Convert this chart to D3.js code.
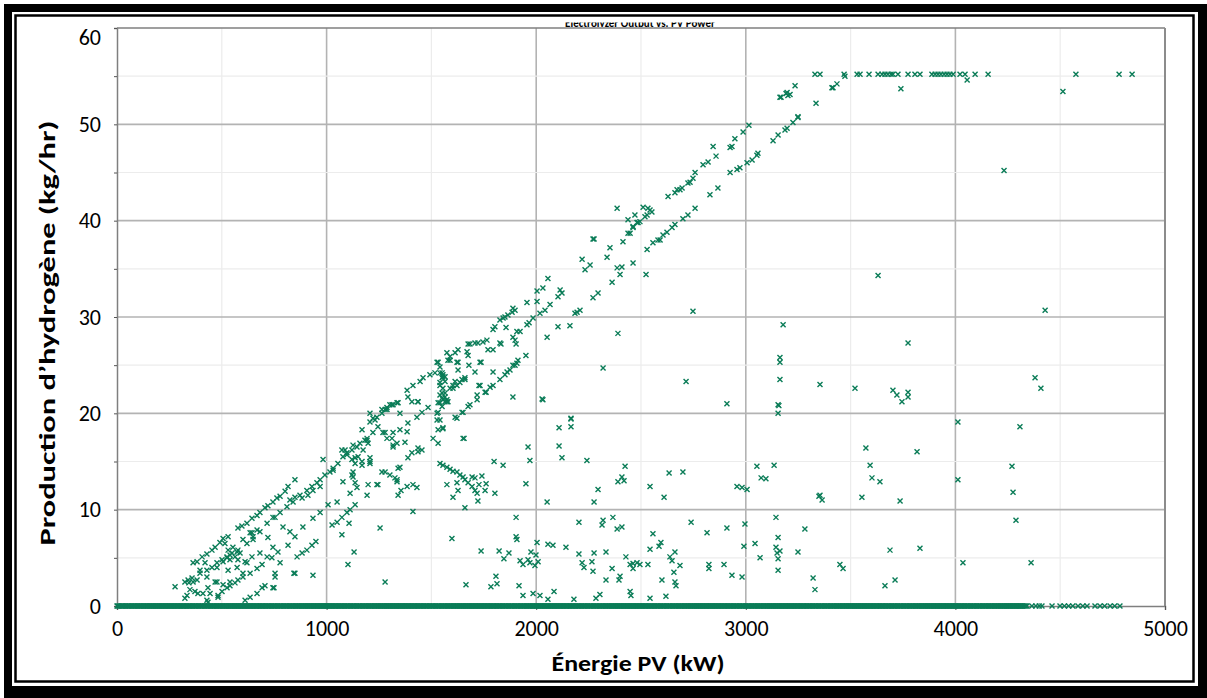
<!DOCTYPE html>
<html>
<head>
<meta charset="utf-8">
<script src="https://cdn.jsdelivr.net/npm/d3@7"></script>
<style>
  body { margin: 0; background: #fff; }
  svg { display: block; }
  text { font-family: Calibri, Carlito, Lato, sans-serif; fill: #000; }
</style>
</head>
<body>
<svg id="chart" width="1207" height="698"></svg>
<script>
const chartTitle = "Electrolyzer Output vs. PV Power";
const xTitle = "Énergie PV (kW)";
const yTitle = "Production d’hydrogène (kg/hr)";
const xTicks = [0, 1000, 2000, 3000, 4000, 5000];
const yTicks = [0, 10, 20, 30, 40, 50, 60];

// PV power (kW) of the hours where the electrolyzer produced nothing
const zeroOutput = [0,9,19,28,39,48,57,68,77,86,97,106,115,126,135,144,155,164,173,184,193,202,213,222,231,242,251,260,271,280,289,300,309,318,329,338,347,358,367,376,387,396,405,416,425,434,445,454,463,474,483,492,503,512,521,532,541,550,561,570,579,590,599,608,619,628,637,648,657,666,677,686,695,706,715,724,735,744,753,764,773,782,793,802,811,822,831,840,851,860,869,880,889,898,909,918,927,938,947,956,967,976,985,996,
  1005,1014,1025,1034,1043,1054,1063,1072,1083,1092,1101,1112,1121,1130,1141,1150,1159,1170,1179,1188,1199,1208,1217,1228,1237,1246,1257,1266,1275,1286,1295,1304,1315,1324,1333,1344,1353,1362,1373,1382,1391,1402,1411,1420,1431,1440,1449,1460,1469,1478,1489,1498,1507,1518,1527,1536,1547,1556,1565,1576,1585,1594,1605,1614,1623,1634,1643,1652,1663,1672,1681,1692,1701,1710,1721,1730,1739,1750,1759,1768,1779,1788,1797,1808,1817,1826,1837,1846,1855,1866,1875,1884,1895,1904,1913,1924,1933,1942,1953,1962,1971,1982,1991,
  2000,2011,2020,2029,2040,2049,2058,2069,2078,2087,2098,2107,2116,2127,2136,2145,2156,2165,2174,2185,2194,2203,2214,2223,2232,2243,2252,2261,2272,2281,2290,2301,2310,2319,2330,2339,2348,2359,2368,2377,2388,2397,2406,2417,2426,2435,2446,2455,2464,2475,2484,2493,2504,2513,2522,2533,2542,2551,2562,2571,2580,2591,2600,2609,2620,2629,2638,2649,2658,2667,2678,2687,2696,2707,2716,2725,2736,2745,2754,2765,2774,2783,2794,2803,2812,2823,2832,2841,2852,2861,2870,2881,2890,2899,2910,2919,2928,2939,2948,2957,2968,2977,2986,2997,
  3006,3015,3026,3035,3044,3055,3064,3073,3084,3093,3102,3113,3122,3131,3142,3151,3160,3171,3180,3189,3200,3209,3218,3229,3238,3247,3258,3267,3276,3287,3296,3305,3316,3325,3334,3345,3354,3363,3374,3383,3392,3403,3412,3421,3432,3441,3450,3461,3470,3479,3490,3499,3508,3519,3528,3537,3548,3557,3566,3577,3586,3595,3606,3615,3624,3635,3644,3653,3664,3673,3682,3693,3702,3711,3722,3731,3740,3751,3760,3769,3780,3789,3798,3809,3818,3827,3838,3847,3856,3867,3876,3885,3896,3905,3914,3925,3934,3943,3954,3963,3972,3983,3992,
  4001,4012,4021,4030,4041,4050,4059,4070,4079,4088,4099,4108,4117,4128,4137,4146,4157,4166,4175,4186,4195,4204,4215,4224,4233,4244,4253,4262,4273,4282,4291,4302,4311,4320,4331,4341,
  4365,4384,4400,4413,4461,4499,4520,4540,4560,4585,4608,4628,4666,4690,4712,4738,4760,4785];
const zeroOutputMore = [4,14,24,33,43,53,62,72,82,91,101,111,120,130,140,149,159,169,178,188,198,207,217,227,236,246,256,265,275,285,294,304,314,323,333,343,352,362,372,381,391,401,410,420,430,439,449,459,468,478,488,497,507,517,526,536,546,555,565,575,584,594,604,613,623,633,642,652,662,671,681,691,700,710,720,729,739,749,758,768,778,787,797,807,816,826,836,845,855,865,874,884,894,903,913,923,932,942,952,961,971,981,990,
  1000,1010,1019,1029,1039,1048,1058,1068,1077,1087,1097,1106,1116,1126,1135,1145,1155,1164,1174,1184,1193,1203,1213,1222,1232,1242,1251,1261,1271,1280,1290,1300,1309,1319,1329,1338,1348,1358,1367,1377,1387,1396,1406,1416,1425,1435,1445,1454,1464,1474,1483,1493,1503,1512,1522,1532,1541,1551,1561,1570,1580,1590,1599,1609,1619,1628,1638,1648,1657,1667,1677,1686,1696,1706,1715,1725,1735,1744,1754,1764,1773,1783,1793,1802,1812,1822,1831,1841,1851,1860,1870,1880,1889,1899,1909,1918,1928,1938,1947,1957,1967,1976,1986,1996,
  2005,2015,2025,2034,2044,2054,2063,2073,2083,2092,2102,2112,2121,2131,2141,2150,2160,2170,2179,2189,2199,2208,2218,2228,2237,2247,2257,2266,2276,2286,2295,2305,2315,2324,2334,2344,2353,2363,2373,2382,2392,2402,2411,2421,2431,2440,2450,2460,2469,2479,2489,2498,2508,2518,2527,2537,2547,2556,2566,2576,2585,2595,2605,2614,2624,2634,2643,2653,2663,2672,2682,2692,2701,2711,2721,2730,2740,2750,2759,2769,2779,2788,2798,2808,2817,2827,2837,2846,2856,2866,2875,2885,2895,2904,2914,2924,2933,2943,2953,2962,2972,2982,2991,
  3001,3011,3020,3030,3040,3049,3059,3069,3078,3088,3098,3107,3117,3127,3136,3146,3156,3165,3175,3185,3194,3204,3214,3223,3233,3243,3252,3262,3272,3281,3291,3301,3310,3320,3330,3339,3349,3359,3368,3378,3388,3397,3407,3417,3426,3436,3446,3455,3465,3475,3484,3494,3504,3513,3523,3533,3542,3552,3562,3571,3581,3591,3600,3610,3620,3629,3639,3649,3658,3668,3678,3687,3697,3707,3716,3726,3736,3745,3755,3765,3774,3784,3794,3803,3813,3823,3832,3842,3852,3861,3871,3881,3890,3900,3910,3919,3929,3939,3948,3958,3968,3977,3987,3997,
  4006,4016,4026,4035,4045,4055,4064,4074,4084,4093,4103,4113,4122,4132,4142,4151,4161,4171,4180,4190,4200,4209,4219,4229,4238,4248,4258,4267,4277,4287,4296,4306,4316,4326,4336];

// PV power (kW) of the hours at full electrolyzer output
const plateauX = [3330,3354,3469,3531,3545,3588,3631,3650,3664,3678,3693,3702,3726,3774,3807,3831,3888,3903,3917,3931,3946,3960,3974,3989,4022,4046,4094,4156,4575,4781,4843];
const plateauValue = 55.2;

// [PV power kW, hydrogen kg/hr]
const upperLine = [[277,2.0],[324,2.5],[339,2.7],[358,2.9],[363,2.5],[343,2.4],[363,4.5],[382,4.6],[406,5.1],[429,5.4],[453,5.8],[468,6.1],[491,6.6],[506,7.0],[530,7.2],[577,8.1],[596,8.3],[620,8.6],[644,9.1],[668,9.4],[682,9.7],[706,10.2],[720,10.4],[744,10.8],[763,11.2],[778,11.4],[802,11.9],[816,12.4],[849,13.1],[983,15.2],[1031,14.1],[1073,16.2],[1088,16.2],[1097,15.7],[1121,15.2],[1136,15.4],[1126,13.9],[1126,13.4],[1078,12.9],[1169,18.3],[1193,17.4],[1198,16.9],[1169,15.0],[1174,16.2],[1207,15.4],[1207,14.8],[1126,16.7],[1183,17.2],[1207,19.1],[1207,20.0],[1221,19.5],[1231,19.3],[1240,19.6],[1264,20.0],[1264,20.4],[1288,20.4],[1288,20.6],[1312,20.9],[1317,20.9],[1336,21.1],[1341,21.1],[1350,20.0],[1279,20.4],[1302,20.9],[1384,22.4],[1412,22.9],[1446,23.3],[1460,23.7],[1493,24.0],[1517,24.2],[1541,24.2],[1555,24.0],[1551,23.7],[1565,23.8],[1574,26.3],[1613,26.3],[1627,26.6],[1670,26.4],[1684,27.2],[1708,27.3],[1722,27.3],[1746,27.4],[1765,27.6],[1675,26.0],[1675,27.2],[1770,26.6],[1794,26.6],[1827,27.3],[1794,28.7],[1803,29.0],[1827,29.7],[1842,29.9],[1865,30.2],[1885,30.5],[1889,30.9],[1899,30.7],[1956,31.5],[2004,31.6],[2004,32.7],[2032,33.0],[2056,34.0],[2114,32.8],[2123,32.5],[2104,32.1],[2219,36.0],[2233,34.9],[2257,35.4],[2276,38.1],[2338,36.2],[2352,37.2],[2386,41.3],[2414,37.8],[2438,38.7],[2462,39.4],[2481,39.8],[2438,40.1],[2448,38.7],[2462,39.3],[2471,40.6],[2486,39.8],[2495,39.9],[2510,41.4],[2519,40.4],[2529,40.6],[2533,41.3],[2543,41.1],[2552,40.9],[2629,42.5],[2662,42.9],[2672,43.2],[2686,43.2],[2696,43.4],[2724,43.9],[2734,44.0],[2748,44.4],[2758,45.0],[2796,45.8],[2820,46.1],[2844,47.7],[2858,46.7],[2925,47.6],[2934,47.7],[2948,48.5],[2987,49.2],[3015,49.9],[3168,52.8],[3192,53.2],[3201,53.0],[3211,53.1],[3235,54.0],[3335,52.2],[3416,53.8],[3435,54.2]];

const middleLine = [[825,11.0],[849,11.3],[873,11.5],[906,12.0],[930,12.4],[954,12.8],[969,13.1],[992,13.6],[1016,13.9],[1031,14.3],[1054,14.8],[1078,15.5],[1097,15.9],[1121,16.2],[1145,16.5],[1159,16.9],[1193,17.2],[1221,18.0],[1245,18.6],[1269,18.0],[1288,17.4],[1317,18.0],[1350,18.3],[1384,18.1],[1374,17.0],[1317,16.5],[1336,16.9],[1388,19.0],[1431,19.6],[1279,18.0],[1312,17.4],[1317,16.7],[1455,16.2],[1436,16.4],[1407,15.9],[1388,15.4],[1651,17.4],[1484,20.6],[1455,20.1],[1436,21.2],[1388,21.7],[1532,20.1],[1527,19.3],[1532,18.3],[1508,17.4],[1532,16.9],[1555,18.5],[1541,23.2],[1555,22.6],[1565,22.1],[1541,21.9],[1555,21.4],[1574,21.2],[1551,21.6],[1589,22.6],[1603,22.6],[1622,22.9],[1636,23.2],[1660,23.5],[1532,25.3],[1589,25.5],[1627,25.3],[1627,24.5],[1708,24.3],[1732,25.3],[1794,24.3],[1861,24.3],[1889,25.0],[1908,25.2],[1732,22.9],[1718,21.9],[1761,22.2],[1794,22.9],[1889,21.7],[2028,21.5],[1908,28.5],[1899,27.6],[1622,19.5],[1651,20.1],[1684,20.9],[1718,21.4],[1756,22.2],[1780,22.7],[1827,23.5],[1851,24.0],[1875,24.5],[1899,25.0],[1913,25.5],[1889,27.9],[1923,28.5],[1956,29.2],[1966,29.4],[1985,29.9],[2018,30.4],[2042,30.7],[2066,31.3],[2185,30.4],[2195,30.5],[2209,30.7],[2271,32.0],[2295,32.5],[2362,33.6],[2386,35.1],[2400,34.4],[2409,35.2],[2462,35.6],[2529,37.0],[2557,37.7],[2581,38.0],[2591,38.0],[2605,38.5],[2624,38.8],[2648,39.3],[2662,39.6],[2700,40.2],[2724,40.6],[2758,41.3],[2829,42.7],[2867,43.4],[2925,45.0],[2958,45.3],[2972,45.5],[3006,46.0],[3030,46.3],[3053,46.8],[3058,47.0],[3130,48.3],[3154,48.9],[3187,49.4],[3197,49.6],[3225,50.2],[3249,50.7],[3163,52.8],[3197,53.3],[3249,50.8],[3411,53.8],
  [1527,25.3],[1579,25.5],[1589,25.9],[1622,25.3],[1603,22.9],[1613,23.3],[1646,23.5],[1660,23.7],[1679,25.0],[1737,25.3],[1727,22.9],[1832,27.2],[1856,28.9],[1851,30.0],[1904,27.2],[1951,26.0],[2032,21.4],[2052,27.9],[2104,29.0],[2161,29.1],[1541,24.8],[1551,24.2],[1555,23.8],[1541,22.9],[1565,23.3],[1551,22.1],[1565,21.7],[1574,21.4],[1579,21.2],[1407,21.2],[1436,21.2],[1527,20.0],[1532,21.1],[2524,34.4],[2390,28.3],[2319,24.7],[2166,19.5],[2271,38.1]];

const lowerLine = [[334,1.1],[324,0.8],[348,1.7],[382,2.7],[396,3.7],[420,4.5],[429,3.0],[434,1.9],[444,1.3],[477,2.5],[482,1.1],[501,1.5],[525,1.9],[539,2.1],[563,2.4],[577,2.7],[601,3.0],[635,3.4],[668,3.9],[692,4.3],[739,5.0],[768,5.6],[816,6.3],[849,7.2],[887,8.2],[935,9.1],[969,9.7],[1007,10.5],[1050,10.8],[1112,11.7],[1145,12.3],[1198,12.6],[1245,12.6],[1336,12.9],[396,3.4],[429,3.7],[453,4.0],[477,4.5],[501,4.8],[525,5.1],[477,4.0],[506,4.6],[539,5.3],[577,5.8],[620,6.5],[649,7.2],[682,7.7],[716,8.6],[744,9.2],[778,9.7],[811,10.3],[840,10.8],[883,11.2],[911,11.5],[935,12.0],[969,12.4],
  [530,5.8],[549,5.5],[563,5.1],[573,5.6],[539,4.8],[553,6.1],[587,5.5],[525,5.0],[577,4.8],[515,6.5]];

const lowestLine = [[611,0.6],[635,0.9],[668,1.3],[692,1.9],[706,2.1],[749,1.9],[754,3.0],[844,3.4],[935,3.2],[859,5.1],[883,5.5],[906,5.8],[930,6.3],[949,6.7],[1026,8.4],[1050,8.7],[1073,9.2],[1097,9.7],[1112,10.0],[1136,10.5],[1073,7.4],[1107,8.6],[1131,5.6],[1102,4.3],[1255,8.1],[1279,2.5],[1193,11.5],[1341,11.5],[1412,9.8],[1264,13.9],[1279,13.9],[1302,13.6],[1326,13.3],[1350,14.4],[1336,13.1],[1384,12.4],[1355,12.0],[1341,14.3],[1412,12.6],[1431,12.3],[1436,16.0]];

const lowScatter = [[372,1.5],[386,1.3],[410,1.3],[429,0.6],[434,0.4],[468,2.5],[482,0.9],[506,2.2],[530,3.7],[539,2.5],[601,3.4],[620,4.5],[644,7.6],[668,7.9],[649,6.9],[754,9.2],[601,6.9],[635,7.6],[792,8.2],[825,7.7],[744,6.1],[720,7.1],[682,5.5],[716,5.1],[644,5.1],[778,4.5],[573,4.0],[611,4.6],[754,3.4],[849,3.4],[744,1.9],[1136,14.8],[1169,14.6],[1207,15.0],[1150,15.5],[1121,13.6],[1136,12.8],[1240,12.6]];

const midScatter = [[1541,21.1],[1565,21.2],[1551,20.7],[1613,19.6],[1646,20.1],[1675,20.7],[2910,21.0],[3158,20.8],[3154,20.0],[1541,19.3],[1555,18.4],[1656,17.4],[1961,16.5],[1970,15.1],[1951,12.7],[2109,18.5],[2166,19.4],[2166,18.6],[2109,16.6],[2123,15.4],[2242,15.1],[1799,15.0],[1842,14.6],[1541,14.8],[1555,14.6],[1574,14.4],[1589,14.2],[1603,14.0],[1622,13.9],[1636,13.6],[1651,13.4],[1660,13.1],[1675,12.8],[1694,12.4],[1708,12.0],[1718,11.7],[1574,12.6],[1603,11.3],[1622,12.8],[1627,12.0],[1694,13.4],[1708,13.3],[1741,13.5],[1727,12.6],[1756,12.0],[1761,12.7],[1803,11.7],[1722,10.9],[1660,10.2],[2052,10.8],[2276,10.8],[2295,12.1],[2424,14.5],[2409,13.4],[2419,13.0],[2390,12.9],[2543,12.4],[2610,11.3],[2634,13.8],[2700,13.9],[2958,12.4],[2982,12.3],[3006,12.1],[3053,14.5],[3073,13.3],[3096,13.2],[3135,14.6],[3349,11.4],[2748,30.6],[2715,23.3]];

const bottomScatter = [[1904,9.2],[2204,8.7],[2319,8.9],[2314,8.4],[2366,9.2],[2409,8.2],[2386,8.0],[2739,8.7],[2910,8.1],[2815,7.6],[2996,8.5],[3144,9.2],[3282,8.0],[3154,7.1],[3144,6.1],[3163,5.7],[3044,6.5],[2991,6.2],[3249,5.6],[3068,5.0],[3149,5.5],[3154,4.9],[3154,3.7],[1598,7.0],[1737,5.7],[1823,5.7],[1870,5.5],[1846,4.9],[1904,7.2],[1908,6.9],[2004,6.6],[2056,6.4],[2080,6.3],[2142,6.1],[1975,5.6],[1999,5.3],[1923,4.7],[1937,4.3],[1961,4.8],[1970,4.5],[2009,4.6],[1994,4.2],[2204,5.4],[2276,5.5],[2333,5.6],[2266,4.6],[2219,4.5],[2228,4.0],[2271,3.6],[2362,3.9],[2428,5.1],[2448,4.3],[2462,4.4],[2481,4.5],[2495,4.3],[2462,3.9],[2533,4.3],[2543,5.9],[2557,7.5],[2595,6.6],[2586,6.2],[2638,5.1],[2662,5.6],[2648,4.7],[2686,4.2],[2657,3.5],[2662,2.5],[2667,2.1],[2824,4.3],[2824,3.9],[2896,4.3],[2934,3.2],[2982,3.0],[3321,2.9],[3330,1.7],[1808,3.1],[1813,2.3],[1784,2.0],[1665,2.2],[1918,2.1],[1937,1.1],[1985,1.3],[2018,1.1],[2056,0.7],[2085,1.5],[2180,0.7],[2285,0.8],[2304,1.2],[2333,2.7],[2400,3.1],[2395,2.7],[2448,1.5],[2452,1.1],[2543,0.8],[2600,2.7],[2619,1.0]];

const rightScatter = [[3631,34.3],[4232,45.2],[4428,30.7],[4380,23.7],[4408,22.6],[4308,18.6],[4270,14.5],[4289,8.9],[4361,4.5],[3774,27.3],[3774,22.2],[3774,21.7],[3178,29.2],[3163,25.8],[3163,25.3],[3163,23.5],[3154,20.9],[3354,23.0],[3521,22.6],[3702,22.4],[3721,21.9],[3745,21.2],[3593,14.6],[3602,13.3],[3573,16.4],[3640,12.9],[3554,11.3],[3354,11.5],[3364,11.0],[3449,4.3],[3464,3.9],[3688,5.8],[3712,2.7],[3664,2.1],[3831,6.0],[3817,16.0],[3736,10.9],[4012,13.1],[4012,19.1],[4036,4.5],[4275,11.8],[3740,53.7],[4513,53.4],[3473,55.0],[4056,54.6]];

const svg = d3.select("#chart");
const width = 1207, height = 698;
const plot = { left: 117, right: 1165, top: 28, bottom: 606 };

const x = d3.scaleLinear().domain([0, 5000]).range([plot.left, plot.right]);
const y = d3.scaleLinear().domain([0, 60]).range([plot.bottom, plot.top]);

// page frame
svg.append("rect").attr("width", width).attr("height", height).attr("fill", "#fff");
svg.append("rect").attr("x", 4).attr("y", 4).attr("width", 1203).attr("height", 694).attr("fill", "#000");
svg.append("rect").attr("x", 12).attr("y", 12).attr("width", 1186).attr("height", 674).attr("fill", "#fff");
svg.append("rect").attr("x", 15.5).attr("y", 15.5).attr("width", 1178).attr("height", 666)
    .attr("fill", "none").attr("stroke", "#000").attr("stroke-width", 2.5);

// title, clipped by the frame like in the original
svg.append("clipPath").attr("id", "titleClip")
    .append("rect").attr("x", 0).attr("y", 22.5).attr("width", width).attr("height", 4.5);
svg.append("text")
    .attr("clip-path", "url(#titleClip)")
    .attr("x", 640).attr("y", 26.5)
    .attr("text-anchor", "middle")
    .style("font-size", "11px").style("font-weight", "bold")
    .text(chartTitle);

// grid
const grid = svg.append("g");
d3.range(500, 5000, 500).forEach(v => {
    const major = v % 1000 === 0;
    grid.append("line")
        .attr("x1", x(v)).attr("x2", x(v)).attr("y1", plot.top).attr("y2", plot.bottom)
        .attr("stroke", major ? "#b3b3b3" : "#ececec").attr("stroke-width", major ? 1.6 : 1.2);
});
d3.range(5, 60, 5).forEach(v => {
    const major = v % 10 === 0;
    grid.append("line")
        .attr("x1", plot.left).attr("x2", plot.right).attr("y1", y(v)).attr("y2", y(v))
        .attr("stroke", major ? "#b3b3b3" : "#ececec").attr("stroke-width", major ? 1.6 : 1.2);
});

// plot border
svg.append("line").attr("x1", plot.left).attr("x2", plot.right).attr("y1", plot.top).attr("y2", plot.top)
    .attr("stroke", "#7f7f7f").attr("stroke-width", 1.5);
svg.append("line").attr("x1", plot.right).attr("x2", plot.right).attr("y1", plot.top).attr("y2", plot.bottom)
    .attr("stroke", "#8c8c8c").attr("stroke-width", 2);

// axes
const xAxis = svg.append("g").attr("transform", `translate(0,${plot.bottom})`)
    .call(d3.axisBottom(x).tickValues(xTicks).tickSize(4).tickPadding(10).tickFormat(d3.format("d")));
const yAxis = svg.append("g").attr("transform", `translate(${plot.left},0)`)
    .call(d3.axisLeft(y).tickValues(d3.range(0, 65, 5)).tickSize(3).tickPadding(13)
        .tickFormat(d => yTicks.includes(d) ? d : ""));
[xAxis, yAxis].forEach(a => {
    a.select(".domain").attr("stroke", "#7f7f7f").attr("stroke-width", 1.5);
    a.selectAll(".tick line").attr("stroke", "#555");
    a.selectAll("text").style("font-size", "22px").style("font-family", "Calibri, Carlito, Lato, sans-serif").attr("fill", "#000");
});
yAxis.selectAll(".tick text").attr("dy", "0.32em");
// the top label sits lower in the original
yAxis.selectAll(".tick").filter(d => d === 60).select("text").attr("dy", "0.75em");
xAxis.selectAll(".tick text").attr("dy", "0.71em");

// points
const allPoints = []
    .concat(zeroOutput.map(v => [v, 0]))
    .concat(zeroOutputMore.map(v => [v, 0]))
    .concat(plateauX.map(v => [v, plateauValue]))
    .concat(upperLine, middleLine, lowerLine, lowestLine, lowScatter, midScatter, bottomScatter, rightScatter);

const s = 2.5;
svg.append("g").selectAll("path")
    .data(allPoints)
    .enter()
    .append("path")
    .attr("transform", d => `translate(${x(d[0])},${y(d[1])})`)
    .attr("d", `M${-s},${-s}L${s},${s}M${-s},${s}L${s},${-s}`)
    .attr("stroke", "#0a7c57")
    .attr("stroke-width", 1.4)
    .attr("fill", "none");

// axis titles
svg.append("text")
    .attr("x", 638).attr("y", 671)
    .attr("text-anchor", "middle")
    .attr("textLength", 173).attr("lengthAdjust", "spacingAndGlyphs")
    .style("font-size", "22px").style("font-weight", "bold")
    .text(xTitle);
svg.append("text")
    .attr("transform", "translate(55,333) rotate(-90)")
    .attr("text-anchor", "middle")
    .attr("textLength", 425).attr("lengthAdjust", "spacingAndGlyphs")
    .style("font-size", "22px").style("font-weight", "bold")
    .text(yTitle);
</script>
</body>
</html>
